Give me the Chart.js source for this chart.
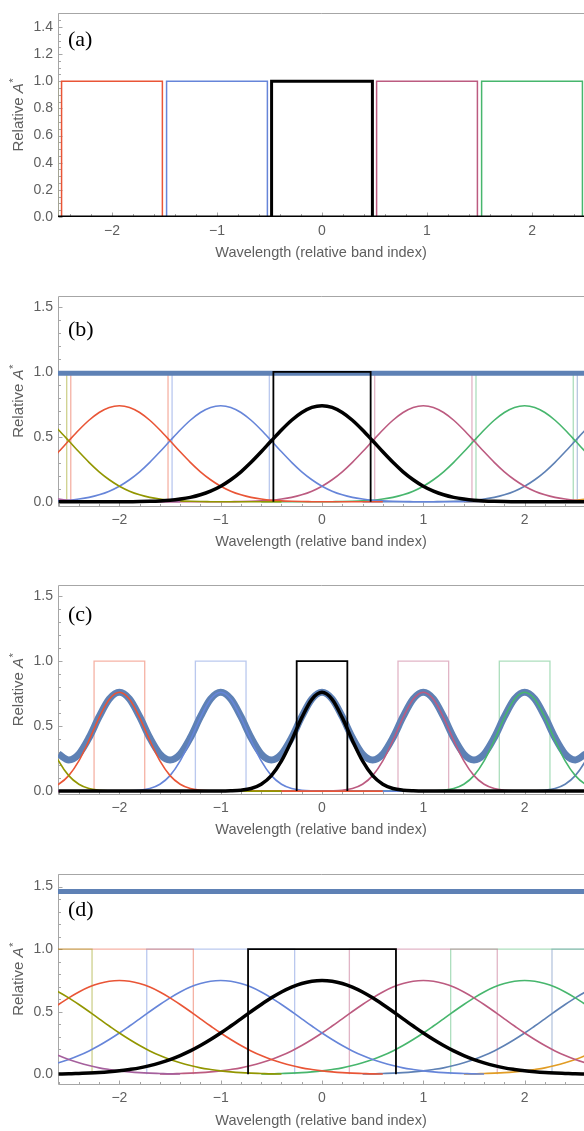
<!DOCTYPE html>
<html>
<head>
<meta charset="utf-8">
<script src="https://cdn.jsdelivr.net/npm/chart.js@4.4.1/dist/chart.umd.min.js"></script>
<style>
    html, body { margin: 0; padding: 0; background: #ffffff; }
    body { width: 584px; height: 1131px; position: relative; overflow: hidden; }
    .panel { position: absolute; left: 0; width: 584px; }
</style>
</head>
<body>
<div class="panel" style="top:0;height:280px"><canvas id="chart-a" width="584" height="280"></canvas></div>
<div class="panel" style="top:280px;height:280px"><canvas id="chart-b" width="584" height="280"></canvas></div>
<div class="panel" style="top:560px;height:280px"><canvas id="chart-c" width="584" height="280"></canvas></div>
<div class="panel" style="top:840px;height:291px"><canvas id="chart-d" width="584" height="291"></canvas></div>
<script>
// Bands (relative index) and their colours; band 0 is the highlighted black one
const bands = [-4, -3, -2, -1, 0, 1, 2, 3, 4];
const bandColors = ['#A5609D', '#929600', '#E95536', '#6685D9', '#000000', '#BC5B80', '#47B66D', '#5E81B5', '#E19C24'];

// Tick labels
const xTicks = [-2, -1, 0, 1, 2];
const yTicksA = [0, 0.2, 0.4, 0.6, 0.8, 1.0, 1.2, 1.4];
const yTicks = [0, 0.5, 1.0, 1.5];

// Distance from the band centre at which the response curves were read
const profileOffsets = [0, 0.1, 0.2, 0.3, 0.4, 0.5, 0.6, 0.7, 0.8, 0.9, 1.0, 1.1, 1.2, 1.3,
    1.4, 1.5, 1.6, 1.7, 1.8, 1.9, 2.0, 2.1, 2.2, 2.3, 2.4, 2.5, 2.6];

// Response of one band at those distances, per panel
const profileA = [0, 0, 0, 0, 0, 0, 0, 0, 0, 0, 0, 0, 0, 0,
    0, 0, 0, 0, 0, 0, 0, 0, 0, 0, 0, 0, 0];
const profileB = [0.740, 0.727, 0.688, 0.628, 0.553, 0.470, 0.385, 0.304, 0.231, 0.170, 0.120, 0.082,
    0.054, 0.034, 0.021, 0.012, 0.007, 0.004, 0.002, 0.001, 0, 0, 0, 0, 0, 0, 0];
const profileC = [0.760, 0.706, 0.565, 0.390, 0.232, 0.119, 0.053, 0.020, 0.007, 0.002, 0, 0,
    0, 0, 0, 0, 0, 0, 0, 0, 0, 0, 0, 0, 0, 0, 0];
const profileD = [0.750, 0.744, 0.726, 0.697, 0.658, 0.611, 0.558, 0.502, 0.443, 0.386, 0.330, 0.278,
    0.230, 0.187, 0.150, 0.118, 0.092, 0.070, 0.052, 0.039, 0.028, 0.020, 0.014, 0.010, 0.007, 0.004, 0.003];

// Rectangular pass bands: half widths per panel, height
const rectHalfWidthA = 0.48;
const rectHalfWidthB = 0.48;
const rectHalfWidthC = 0.25;
const rectHalfWidthD = 0.73;
const rectHeight = 1;

// Summed response (thick blue)
const sumXB = [-2.7, 2.7];
const sumB = [0.99, 0.99];
const sumXC = [-2.6, -2.5, -2.4, -2.3, -2.2, -2.1, -2.0, -1.9, -1.8, -1.7, -1.6, -1.5, -1.4, -1.3,
    -1.2, -1.1, -1.0, -0.9, -0.8, -0.7, -0.6, -0.5, -0.4, -0.3, -0.2, -0.1, 0, 0.1, 0.2, 0.3, 0.4,
    0.5, 0.6, 0.7, 0.8, 0.9, 1.0, 1.1, 1.2, 1.3, 1.4, 1.5, 1.6, 1.7, 1.8, 1.9, 2.0, 2.1, 2.2, 2.3,
    2.4, 2.5, 2.6];
const sumC = [0.285, 0.24, 0.285, 0.41, 0.572, 0.708, 0.76, 0.708, 0.572, 0.41, 0.285, 0.24, 0.285, 0.41,
    0.572, 0.708, 0.76, 0.708, 0.572, 0.41, 0.285, 0.24, 0.285, 0.41, 0.572, 0.708, 0.76, 0.708, 0.572,
    0.41, 0.285, 0.24, 0.285, 0.41, 0.572, 0.708, 0.76, 0.708, 0.572, 0.41, 0.285, 0.24, 0.285, 0.41,
    0.572, 0.708, 0.76, 0.708, 0.572, 0.41, 0.285, 0.24, 0.285];
const sumXD = [-2.7, 2.7];
const sumD = [1.46, 1.46];

const FONT = "'Liberation Sans', Arial, sans-serif";
const TEXT_COLOR = '#5f5f5f';
const FRAME_COLOR = '#a6a6a6';
const SUM_COLOR = '#5E81B5';

function withAlpha(hex, alpha) {
    const n = parseInt(hex.slice(1), 16);
    return `rgba(${(n >> 16) & 255}, ${(n >> 8) & 255}, ${n & 255}, ${alpha})`;
}

function bandCurve(center, profile) {
    const pts = [];
    for (let i = profileOffsets.length - 1; i > 0; i--) {
        pts.push({ x: center - profileOffsets[i], y: profile[i] });
    }
    for (let i = 0; i < profileOffsets.length; i++) {
        pts.push({ x: center + profileOffsets[i], y: profile[i] });
    }
    return pts;
}

function bandRect(center, halfWidth) {
    return [
        { x: center - halfWidth, y: 0 },
        { x: center - halfWidth, y: rectHeight },
        { x: center + halfWidth, y: rectHeight },
        { x: center + halfWidth, y: 0 },
    ];
}

function fmtMinus(v) {
    return v < 0 ? '\u2212' + Math.abs(v) : String(v);
}

// Frame, inward ticks, rotated y title and the panel letter
const panelDecor = {
    id: 'panelDecor',
    beforeDatasetsDraw(chart, args, opts) {
        const { ctx, chartArea: a, scales } = chart;
        const L = Math.round(a.left) + 0.5;
        const T = Math.round(a.top) + 0.5;
        const B = Math.round(a.bottom) - 0.5;
        ctx.save();
        ctx.strokeStyle = FRAME_COLOR;
        ctx.lineWidth = 1;
        ctx.beginPath();
        ctx.moveTo(a.right + 2, T);
        ctx.lineTo(L, T);
        ctx.lineTo(L, B);
        ctx.lineTo(a.right + 2, B);
        ctx.stroke();

        ctx.beginPath();
        const ys = scales.y;
        for (let v = Math.ceil(ys.min / opts.yMinor) * opts.yMinor; v <= ys.max + 1e-9; v += opts.yMinor) {
            const p = Math.round(ys.getPixelForValue(v)) + 0.5;
            const major = opts.yMajor.some((m) => Math.abs(m - v) < 1e-6);
            ctx.moveTo(L, p);
            ctx.lineTo(L + (major ? 4 : 2.5), p);
        }
        const xs = scales.x;
        for (let v = Math.ceil(xs.min / 0.2) * 0.2; v <= xs.max + 1e-9; v += 0.2) {
            const p = Math.round(xs.getPixelForValue(v)) + 0.5;
            const major = Math.abs(v - Math.round(v)) < 1e-6;
            ctx.moveTo(p, B);
            ctx.lineTo(p, B - (major ? 4 : 2.5));
        }
        ctx.stroke();
        ctx.restore();
    },
    afterDraw(chart, args, opts) {
        const { ctx, chartArea: a } = chart;
        ctx.save();
        // y title: "Relative A*" with italic A and raised asterisk
        const size = 15;
        const fNormal = `${size}px ${FONT}`;
        const fItalic = `italic ${size}px ${FONT}`;
        const fStar = `${size * 0.75}px ${FONT}`;
        ctx.font = fNormal;
        const w1 = ctx.measureText('Relative ').width;
        ctx.font = fItalic;
        const w2 = ctx.measureText('A').width;
        ctx.font = fStar;
        const w3 = ctx.measureText('*').width;
        const total = w1 + w2 + w3;
        ctx.translate(opts.yTitleX, (a.top + a.bottom) / 2);
        ctx.rotate(-Math.PI / 2);
        ctx.fillStyle = TEXT_COLOR;
        ctx.textBaseline = 'middle';
        ctx.textAlign = 'left';
        let x0 = -total / 2;
        ctx.font = fNormal;
        ctx.fillText('Relative ', x0, 0);
        x0 += w1;
        ctx.font = fItalic;
        ctx.fillText('A', x0, 0);
        x0 += w2 + 0.5;
        ctx.font = fStar;
        ctx.fillText('*', x0, -5);
        ctx.restore();

        ctx.save();
        ctx.fillStyle = '#000000';
        ctx.font = "22px 'Liberation Serif', 'Times New Roman', serif";
        ctx.textBaseline = 'middle';
        ctx.textAlign = 'left';
        ctx.fillText(opts.letter, 68, opts.letterY);
        ctx.restore();
    },
};
Chart.register(panelDecor);

function makePanel(cfg) {
    const datasets = [];

    bands.forEach((b, i) => {
        const isMain = b === 0;
        datasets.push({
            data: bandCurve(b, cfg.profile),
            borderColor: bandColors[i],
            borderWidth: isMain ? cfg.mainCurveWidth : 1.6,
            order: isMain ? 0 : 2,
            cubicInterpolationMode: 'monotone',
        });
        datasets.push({
            data: bandRect(b, cfg.halfWidth),
            borderColor: isMain ? '#000000' : withAlpha(bandColors[i], cfg.rectAlpha),
            borderWidth: isMain ? cfg.mainRectWidth : cfg.rectWidth,
            order: isMain ? 1 : 4,
            tension: 0,
            borderJoinStyle: 'miter',
        });
    });

    if (cfg.sumX) {
        datasets.push({
            data: cfg.sumX.map((x, i) => ({ x: x, y: cfg.sumY[i] })),
            borderColor: SUM_COLOR,
            borderWidth: cfg.sumWidth,
            order: 3,
            cubicInterpolationMode: 'monotone',
        });
    }

    datasets.forEach((d) => {
        d.showLine = true;
        d.pointRadius = 0;
        d.fill = false;
    });

    return new Chart(document.getElementById(cfg.id), {
        type: 'scatter',
        data: { datasets: datasets },
        options: {
            responsive: false,
            animation: false,
            events: [],
            layout: { padding: { top: cfg.padTop, bottom: cfg.padBottom, left: 0, right: 0 } },
            plugins: {
                legend: { display: false },
                tooltip: { enabled: false },
                panelDecor: {
                    letter: cfg.letter,
                    letterY: cfg.letterY,
                    yTitleX: 18.7,
                    yMajor: cfg.yTicks,
                    yMinor: cfg.yMinor,
                },
            },
            scales: {
                x: {
                    type: 'linear',
                    min: cfg.xMin,
                    max: cfg.xMax,
                    grid: { display: false, drawTicks: false },
                    border: { display: false },
                    afterBuildTicks: (s) => {
                        s.ticks = xTicks.map((v) => ({ value: v }));
                    },
                    ticks: {
                        autoSkip: false,
                        maxRotation: 0,
                        padding: cfg.tickPad,
                        color: TEXT_COLOR,
                        font: { family: FONT, size: 14 },
                        callback: (v) => fmtMinus(v),
                    },
                    title: {
                        display: true,
                        text: 'Wavelength (relative band index)',
                        color: TEXT_COLOR,
                        font: { family: FONT, size: 14.5 },
                        padding: 0,
                    },
                    afterFit: (s) => {
                        s.height = cfg.xAxisH;
                    },
                },
                y: {
                    type: 'linear',
                    min: cfg.yMin,
                    max: cfg.yMax,
                    grid: { display: false, drawTicks: false },
                    border: { display: false },
                    afterBuildTicks: (s) => {
                        s.ticks = cfg.yTicks.map((v) => ({ value: v }));
                    },
                    ticks: {
                        padding: 5,
                        color: TEXT_COLOR,
                        font: { family: FONT, size: 14 },
                        callback: (v) => v.toFixed(1),
                    },
                    afterFit: (s) => {
                        s.width = 58;
                    },
                },
            },
        },
    });
}

makePanel({
    id: 'chart-a', letter: '(a)', letterY: 40,
    padTop: 7, padBottom: 18, xAxisH: 45, tickPad: 6,
    xMin: -2.514, xMax: 2.495, yMin: 0, yMax: 1.5, yTicks: yTicksA, yMinor: 0.05,
    profile: profileA, halfWidth: rectHalfWidthA,
    rectAlpha: 1, rectWidth: 1.5, mainRectWidth: 3, mainCurveWidth: 3,
    sumX: null, sumY: null, sumWidth: 0,
});
makePanel({
    id: 'chart-b', letter: '(b)', letterY: 50,
    padTop: 16, padBottom: 9, xAxisH: 44, tickPad: 5,
    xMin: -2.606, xMax: 2.586, yMin: -0.04, yMax: 1.585, yTicks: yTicks, yMinor: 0.1,
    profile: profileB, halfWidth: rectHalfWidthB,
    rectAlpha: 0.45, rectWidth: 1.3, mainRectWidth: 1.8, mainCurveWidth: 3.5,
    sumX: sumXB, sumY: sumB, sumWidth: 5,
});
makePanel({
    id: 'chart-c', letter: '(c)', letterY: 55,
    padTop: 25, padBottom: 1, xAxisH: 44, tickPad: 5,
    xMin: -2.606, xMax: 2.586, yMin: -0.03, yMax: 1.585, yTicks: yTicks, yMinor: 0.1,
    profile: profileC, halfWidth: rectHalfWidthC,
    rectAlpha: 0.45, rectWidth: 1.3, mainRectWidth: 1.8, mainCurveWidth: 3.5,
    sumX: sumXC, sumY: sumC, sumWidth: 7,
});
makePanel({
    id: 'chart-d', letter: '(d)', letterY: 70,
    padTop: 34, padBottom: 1, xAxisH: 45, tickPad: 5,
    xMin: -2.606, xMax: 2.586, yMin: -0.085, yMax: 1.6, yTicks: yTicks, yMinor: 0.1,
    profile: profileD, halfWidth: rectHalfWidthD,
    rectAlpha: 0.45, rectWidth: 1.3, mainRectWidth: 1.8, mainCurveWidth: 3.5,
    sumX: sumXD, sumY: sumD, sumWidth: 5,
});
</script>
</body>
</html>
